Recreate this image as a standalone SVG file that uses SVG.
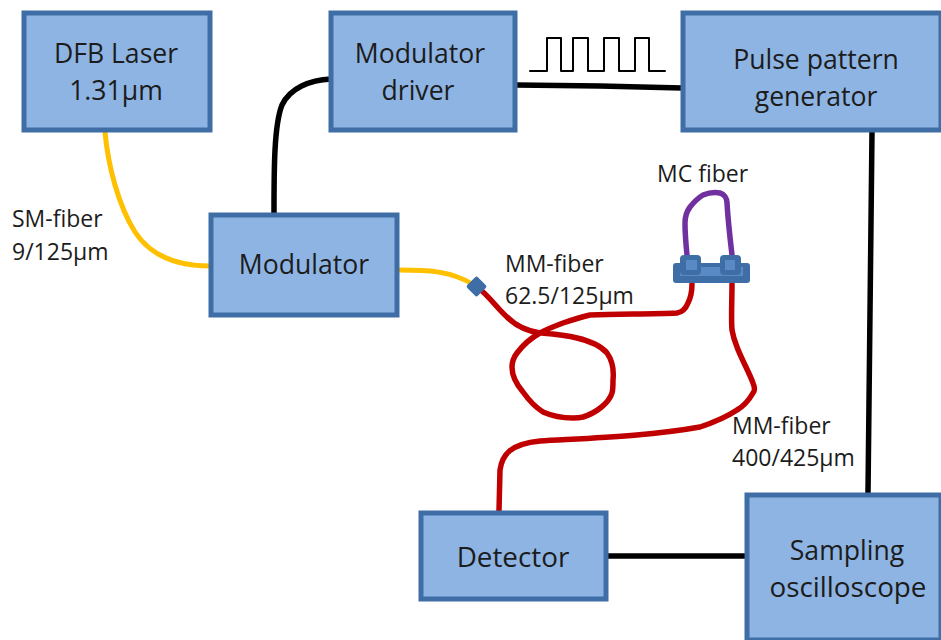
<svg xmlns="http://www.w3.org/2000/svg" width="941" height="640" viewBox="0 0 941 640">
<style>
.box{fill:#8eb4e3;stroke:#3f6ea6;stroke-width:5}
.t{font-family:"Open Sans","Noto Sans",sans-serif;font-size:26.6px;fill:#1c1c1c;text-anchor:middle}
.b{font-size:27.8px}
.l{font-family:"Open Sans","Noto Sans",sans-serif;font-size:23px;fill:#1c1c1c}
.w{fill:none;stroke-linecap:round;stroke-linejoin:round}
.k{stroke:#000;stroke-width:5.500}
.y{stroke:#ffc000;stroke-width:5}
.r{stroke:#c00000;stroke-width:5.500}
.p{stroke:#7030a0;stroke-width:5.500}
.c{fill:#3f6ea6}
.i{fill:#5a8ac6}
</style>
<rect width="941" height="640" fill="#fff"/>
<g id="connectors">
<path class="w k" d="M274 213C274 170 274 125 282 105C290 88 310 80 331 79"/>
<path class="w k" d="M516 85L600 86L682 88"/>
<path class="w k" d="M872 132L868 493"/>
<path class="w k" d="M608 556L746 556"/>
<path class="w y" d="M105 132C108 165 118 205 135 232C152 258 180 266 210 266"/>
<path class="w y" d="M400 270C425 270 450 270 474 285"/>
<path class="w r" d="M483 292C490 298 500 311 507 317C515 325 527 331 540 333C552 334 565 335 577 338C590 341 601 346 607 353C612 360 614 370 613 380C613 386 613 390 612 393C609 403 596 413 583 417C579 418 576 418 573 418C563 418 552 416 543 412C535 407 528 399 523 392C517 385 512 376 512 367C512 362 514 357 517 353C523 345 531 338 540 333C547 329 555 326 563 323C572 320 581 317 590 315C618 314 650 314 677 313C683 312 686 308 688 303C691 297 692 290 692 284"/>
<path class="w r" d="M732 284C732 300 731 318 732 330C733 336 735 342 737 347C741 358 749 372 753 383C755 388 755 391 753 393C749 400 744 406 737 410C725 418 712 423 700 427C650 436 590 438 540 441C510 444 502 455 500 470L499 511"/>
<path class="w p" d="M687 255C686 245 685 234 685 223C685 216 687 211 690 207C694 202 698 198 703 195C708 193 714 192 720 193C724 194 727 198 727 203C728 220 730 238 732 255"/>
<path fill="none" stroke="#000" stroke-width="2" stroke-linecap="round" stroke-linejoin="round" d="M530 71H547V38H561V71H573V38H588V71H604V38H619V71H635V38H649V71H665"/>
</g>
<g id="connector-splice"><rect class="c" x="469" y="279" width="15" height="15" rx="2" transform="rotate(45 476.500 286.500)"/></g>
<g id="connector-mc">
<rect class="c" x="673" y="263" width="77" height="20" rx="3"/>
<path class="i" d="M680 267H743V276H680Z"/>
<rect class="c" x="680" y="255" width="21" height="20" rx="4"/>
<rect class="c" x="720" y="255" width="21" height="20" rx="4"/>
<rect class="i" x="686" y="260" width="11" height="10"/>
<rect class="i" x="725" y="260" width="10" height="10"/>
</g>
<g id="dfb-laser"><rect class="box" x="24" y="13" width="186" height="117"/><text class="t" x="116" y="63">DFB Laser</text><text class="t" x="116" y="100">1.31µm</text></g>
<g id="modulator-driver"><rect class="box" x="331" y="13" width="184" height="117"/><text class="t" x="420" y="63">Modulator</text><text class="t" x="418" y="100">driver</text></g>
<g id="pulse-pattern-generator"><rect class="box" x="683" y="13" width="258" height="117"/><text class="t" x="816" y="69">Pulse pattern</text><text class="t" x="816" y="106">generator</text></g>
<g id="modulator"><rect class="box" x="211" y="215" width="186" height="100"/><text class="t" x="304" y="274">Modulator</text></g>
<g id="detector"><rect class="box" x="421" y="513" width="185" height="86"/><text class="t b" x="513" y="567">Detector</text></g>
<g id="sampling-oscilloscope"><rect class="box" x="747" y="495" width="194" height="145"/><text class="t" x="847" y="560">Sampling</text><text class="t b" x="848" y="597">oscilloscope</text></g>
<g id="labels">
<text class="l" x="12" y="227">SM-fiber</text><text class="l" x="12" y="260">9/125µm</text>
<text class="l" x="505" y="272">MM-fiber</text><text class="l" x="505" y="304">62.5/125µm</text>
<text class="l" x="657" y="182">MC fiber</text>
<text class="l" x="732" y="434">MM-fiber</text><text class="l" x="732" y="466">400/425µm</text>
</g>
</svg>
